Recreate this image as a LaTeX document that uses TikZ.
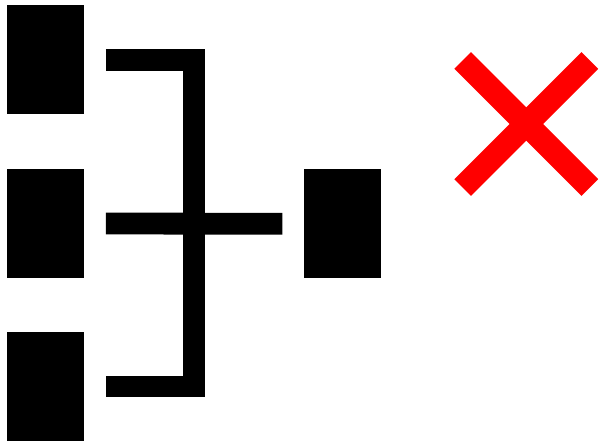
\documentclass[tikz,border=0pt]{standalone}
\begin{document}
\begin{tikzpicture}[x=1pt,y=-1pt,
  blk/.style={fill=black,draw=none,inner sep=0pt,minimum width=77pt,minimum height=109pt},
  wire/.style={line width=21.8pt,line join=miter,line cap=butt},
  cross/.style={red,line width=23.6pt,line cap=butt}]
\useasboundingbox (0,0) rectangle (599,441);
\node[blk] (l1) at (45.5,59.75) {};
\node[blk] (l2) at (45.5,223.5) {};
\node[blk] (l3) at (45.5,386.5) {};
\node[blk] (m) at (342.3,223.8) {};
\coordinate (xc) at (526.3,124);
\coordinate (xa) at (462.7,60.5);
\coordinate (xb) at (589.9,187.5);
\coordinate (xd) at (462.7,187.5);
\coordinate (xe) at (589.9,60.5);
\draw[wire] ([xshift=21.7pt]l1.east) -- ++(88.1,0) coordinate (tj) |- ([xshift=21.7pt]l3.east);
\draw[wire] ([xshift=21.7pt]l2.east) -- ([xshift=-21.3pt]m.west);
\draw[cross] (xa) -- (xc) -- (xb);
\draw[cross] (xd) -- (xc) -- (xe);
\end{tikzpicture}
\end{document}
